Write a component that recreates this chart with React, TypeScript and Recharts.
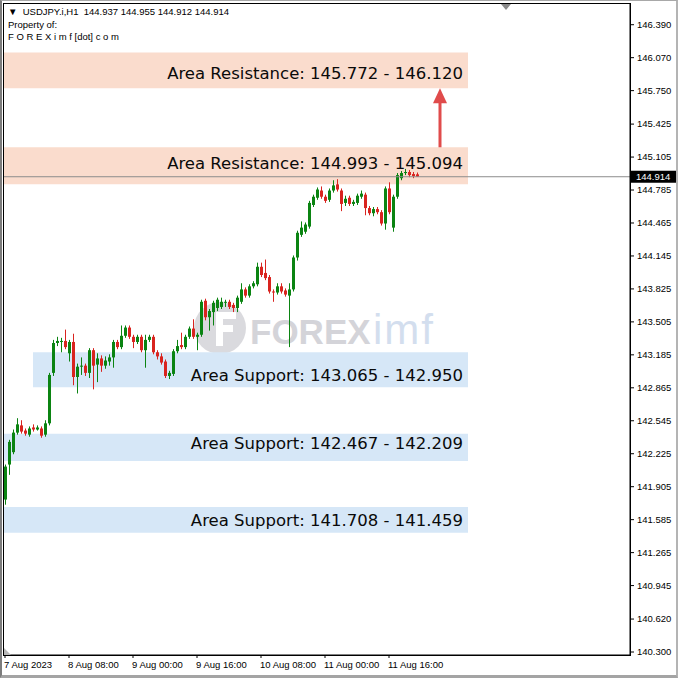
import React from 'react';
import {
  ComposedChart, Bar, XAxis, YAxis, ReferenceArea, ReferenceLine, ReferenceDot,
} from 'recharts';

// USDJPY H1, one entry per bar
const opens = [
  141.78, 142.12, 142.24, 142.43, 142.50, 142.45, 142.41, 142.48, 142.46, 142.47,
  142.41, 142.52, 143.01, 143.30, 143.31, 143.32, 143.20, 143.31, 142.97, 143.07,
  143.08, 143.01, 143.23, 143.09, 143.15, 143.08, 143.12, 143.16, 143.31, 143.26,
  143.37, 143.45, 143.36, 143.31, 143.36, 143.23, 143.33, 143.36, 143.21, 143.17,
  143.12, 142.98, 143.00, 143.22, 143.28, 143.26, 143.36, 143.44, 143.36, 143.38,
  143.71, 143.55, 143.60, 143.64, 143.65, 143.69, 143.70, 143.67, 143.64, 143.70,
  143.82, 143.76, 143.85, 143.87, 144.04, 143.98, 143.94, 143.80, 143.79, 143.85,
  143.81, 143.76, 143.82, 144.13, 144.35, 144.38, 144.43, 144.64, 144.71, 144.78,
  144.72, 144.69, 144.78, 144.84, 144.78, 144.66, 144.71, 144.65, 144.66, 144.72,
  144.74, 144.61, 144.56, 144.60, 144.57, 144.46, 144.80, 144.42, 144.72, 144.90,
  144.95, 144.96, 144.94, 144.937,
];
const highs = [
  142.12, 142.36, 142.46, 142.57, 142.55, 142.47, 142.49, 142.51, 142.50, 142.49,
  142.55, 143.01, 143.33, 143.36, 143.35, 143.43, 143.33, 143.39, 143.10, 143.16,
  143.10, 143.25, 143.25, 143.20, 143.18, 143.17, 143.19, 143.33, 143.33, 143.47,
  143.47, 143.47, 143.38, 143.38, 143.38, 143.38, 143.38, 143.38, 143.23, 143.20,
  143.14, 143.03, 143.24, 143.33, 143.40, 143.38, 143.46, 143.53, 143.40, 143.72,
  143.73, 143.63, 143.71, 143.74, 143.74, 143.72, 143.72, 143.69, 143.76, 143.88,
  143.84, 143.87, 143.90, 144.08, 144.08, 144.11, 143.96, 143.82, 143.88, 143.88,
  143.83, 143.88, 144.15, 144.39, 144.48, 144.47, 144.68, 144.74, 144.81, 144.82,
  144.74, 144.80, 144.88, 144.89, 144.80, 144.73, 144.73, 144.69, 144.75, 144.78,
  144.76, 144.63, 144.62, 144.62, 144.59, 144.82, 144.86, 144.74, 144.95, 144.97,
  144.99, 144.98, 144.96, 144.955,
];
const lows = [
  141.73, 142.02, 142.22, 142.41, 142.42, 142.40, 142.39, 142.44, 142.45, 142.38,
  142.39, 142.50, 142.98, 143.27, 143.21, 143.24, 143.12, 142.89, 142.81, 142.99,
  142.98, 142.96, 142.85, 142.92, 143.02, 143.05, 143.08, 143.06, 143.24, 143.24,
  143.35, 143.34, 143.25, 143.29, 143.21, 143.06, 143.31, 143.19, 143.14, 143.09,
  142.96, 142.95, 142.98, 143.20, 143.24, 143.24, 143.34, 143.34, 143.23, 143.36,
  143.52, 143.42, 143.47, 143.61, 143.63, 143.65, 143.63, 143.60, 143.60, 143.68,
  143.74, 143.74, 143.83, 143.85, 143.94, 143.91, 143.78, 143.70, 143.77, 143.78,
  143.75, 143.26, 143.80, 144.10, 144.33, 144.36, 144.41, 144.62, 144.69, 144.70,
  144.66, 144.67, 144.76, 144.77, 144.58, 144.63, 144.63, 144.63, 144.64, 144.70,
  144.54, 144.54, 144.53, 144.55, 144.44, 144.40, 144.55, 144.38, 144.70, 144.88,
  144.93, 144.91, 144.90, 144.912,
];
const closes = [
  142.10, 142.34, 142.43, 142.51, 142.44, 142.42, 142.47, 142.46, 142.48, 142.40,
  142.52, 142.99, 143.30, 143.32, 143.32, 143.26, 143.31, 142.97, 143.07, 143.08,
  143.01, 143.23, 143.08, 143.15, 143.08, 143.13, 143.16, 143.31, 143.26, 143.37,
  143.45, 143.36, 143.31, 143.36, 143.23, 143.33, 143.36, 143.21, 143.17, 143.11,
  142.98, 143.01, 143.22, 143.27, 143.26, 143.36, 143.44, 143.36, 143.38, 143.70,
  143.55, 143.61, 143.69, 143.72, 143.70, 143.70, 143.65, 143.64, 143.74, 143.82,
  143.76, 143.85, 143.88, 144.04, 143.96, 143.93, 143.80, 143.79, 143.85, 143.80,
  143.77, 143.82, 144.13, 144.37, 144.42, 144.45, 144.66, 144.72, 144.79, 144.72,
  144.68, 144.78, 144.83, 144.79, 144.65, 144.70, 144.65, 144.67, 144.73, 144.75,
  144.61, 144.56, 144.60, 144.57, 144.46, 144.80, 144.57, 144.72, 144.93, 144.95,
  144.96, 144.93, 144.92, 144.914,
];

const priceTicks = [
  146.39, 146.07, 145.75, 145.425, 145.105, 144.785, 144.465, 144.145, 143.825, 143.505,
  143.185, 142.865, 142.545, 142.225, 141.905, 141.585, 141.265, 140.945, 140.62, 140.3,
];
const timeTicks = [0, 16, 32, 48, 64, 80, 96];
const timeLabels = ['7 Aug 2023', '8 Aug 08:00', '9 Aug 00:00', '9 Aug 16:00', '10 Aug 08:00', '11 Aug 00:00', '11 Aug 16:00'];

// zones: text written on them, and the box edges as drawn
const zoneNames = [
  'Area Resistance: 145.772 - 146.120',
  'Area Resistance: 144.993 - 145.094',
  'Area Support: 143.065 - 142.950',
  'Area Support: 142.467 - 142.209',
  'Area Support: 141.708 - 141.459',
];
const zoneTop = [146.12, 145.2, 143.21, 142.42, 141.708];
const zoneBottom = [145.772, 144.84, 142.87, 142.155, 141.459];
const zoneIsResistance = [true, true, false, false, false];

const lastPrice = 144.914;

const GREEN = '#0b8412';
const RED = '#d9241f';
const SMALL = { fontFamily: '"Liberation Sans", Arial, sans-serif', fontSize: 9.5 };

const data = opens.map((o, i) => ({
  i, o, h: highs[i], l: lows[i], c: closes[i], range: [lows[i], highs[i]],
}));

function Candle(props: any) {
  const { x, y, width, height, payload } = props;
  if (!payload || x == null) return null;
  const { o, c, h, l } = payload;
  const top = Math.min(y, y + height);
  const span = Math.abs(height);
  const k = h > l ? span / (h - l) : 0;
  const cx = Math.round(x + width / 2) + 0.5;
  const bodyTop = top + (h - Math.max(o, c)) * k;
  const bodyH = Math.max(1, Math.abs(o - c) * k);
  const col = c >= o ? GREEN : RED;
  return (
    <g>
      <line x1={cx} x2={cx} y1={top} y2={top + span} stroke={col} strokeWidth={1} />
      <rect x={cx - 1.5} y={bodyTop} width={3} height={bodyH} fill={col} />
    </g>
  );
}

function XTick(props: any) {
  const { x, payload } = props;
  const idx = timeTicks.indexOf(payload.value);
  return (
    <text x={x - 1} y={664} dominantBaseline="central" fill="#000" style={SMALL}>
      {timeLabels[idx]}
    </text>
  );
}

function PriceTag(props: any) {
  const vb = props.viewBox;
  if (!vb) return null;
  const x = vb.x + vb.width + 1;
  return (
    <g>
      <rect x={x} y={vb.y - 6} width={45} height={12} fill="#000" />
      <text x={x + 5} y={vb.y} dominantBaseline="central" fill="#fff" style={SMALL}>
        {lastPrice.toFixed(3)}
      </text>
    </g>
  );
}

function ZoneLabel(props: any) {
  const vb = props.viewBox;
  if (!vb) return null;
  return (
    <text
      x={vb.x + vb.width - 5}
      y={vb.y + vb.height / 2 + (props.shift || 0)}
      textAnchor="end"
      dominantBaseline="central"
      fill="#0a0a0a"
      style={{ fontFamily: '"DejaVu Sans", Verdana, sans-serif', fontSize: 16.5 }}
    >
      {props.text}
    </text>
  );
}

function ArrowHead(props: any) {
  const { cx, cy } = props;
  return <polygon points={`${cx},${cy} ${cx - 7},${cy + 15} ${cx + 7},${cy + 15}`} fill="#e04b4b" />;
}

function ShiftMark(props: any) {
  const { cx, cy } = props;
  return <polygon points={`${cx - 5},${cy} ${cx + 5},${cy} ${cx},${cy + 6}`} fill="#8a8a8a" />;
}

function CornerMark(props: any) {
  const { cx, cy } = props;
  return <polygon points={`${cx},${cy} ${cx},${cy - 7} ${cx + 7},${cy}`} fill="#b8b8b8" />;
}

export default function App() {
  const zoneStart = [-0.25, -0.25, 7, -0.25, -0.25];
  const zoneEnd = 115.75;
  const labelShift = [3, -2, 6, -4, 1];

  return (
    <div style={{ position: 'absolute', left: 0, top: 0, width: 678, height: 678, background: '#fff', overflow: 'hidden' }}>
      {/* watermark */}
      <svg width={678} height={678} style={{ position: 'absolute', left: 0, top: 0 }}>
        <circle cx={220} cy={328} r={26} fill="#dadade" />
        <path d="M216 312 h20 v7 h-13 v6 h10 v7 h-10 v14 h-7 z" fill="#fff" />
        <text x={250} y={344} fill="#d4d4d9" style={{ fontFamily: '"Liberation Sans", Arial, sans-serif', fontSize: 35, fontWeight: 700 }}>FOREX</text>
        <text x={373} y={344} fill="#d3deee" style={{ fontFamily: '"Liberation Sans", Arial, sans-serif', fontSize: 42, letterSpacing: 2 }}>imf</text>
      </svg>

      <div style={{ position: 'absolute', left: 0, top: 0 }}>
        <ComposedChart width={678} height={678} data={data} margin={{ top: 4, right: 0, bottom: 0, left: 4 }}>
          <XAxis
            dataKey="i"
            type="number"
            domain={[-0.25, 156.25]}
            allowDataOverflow
            ticks={timeTicks}
            interval={0}
            tick={<XTick />}
            tickSize={3}
            tickLine={{ stroke: '#000' }}
            axisLine={{ stroke: '#000' }}
            height={23}
          />
          <YAxis
            orientation="right"
            type="number"
            domain={[140.271, 146.591]}
            allowDataOverflow
            ticks={priceTicks}
            interval={0}
            tickFormatter={(v: number) => v.toFixed(3)}
            width={48}
            tickSize={4}
            tickMargin={3}
            axisLine={{ stroke: '#000' }}
            tickLine={{ stroke: '#000' }}
            tick={{ fill: '#000', ...SMALL }}
          />
          {zoneNames.map((name, k) => (
            <ReferenceArea
              key={name}
              x1={zoneStart[k]}
              x2={zoneEnd}
              y1={zoneBottom[k]}
              y2={zoneTop[k]}
              fill={zoneIsResistance[k] ? '#fadccd' : '#d6e7f7'}
              fillOpacity={1}
              stroke="none"
              ifOverflow="visible"
              label={<ZoneLabel text={name} shift={labelShift[k]} />}
            />
          ))}
          <ReferenceLine y={lastPrice} stroke="#8c8c8c" strokeWidth={1} label={<PriceTag />} />
          <Bar dataKey="range" barSize={3} shape={<Candle />} isAnimationActive={false} />
          <ReferenceLine
            segment={[{ x: 108.75, y: 145.2 }, { x: 108.75, y: 145.64 }]}
            stroke="#e04b4b"
            strokeWidth={3}
          />
          <ReferenceDot x={108.75} y={145.772} ifOverflow="visible" shape={<ArrowHead />} />
          <ReferenceDot x={125.25} y={146.591} ifOverflow="visible" shape={<ShiftMark />} />
          <ReferenceDot x={-0.25} y={140.271} ifOverflow="visible" shape={<CornerMark />} />
        </ComposedChart>
      </div>

      {/* chart frame and window border */}
      <div style={{ position: 'absolute', left: 3, top: 3, width: 628, height: 653, border: '1px solid #000', boxSizing: 'border-box', pointerEvents: 'none' }} />
      <div style={{
        position: 'absolute', left: 0, top: 0, width: 678, height: 678, boxSizing: 'border-box', pointerEvents: 'none',
        borderTop: '1px solid #a8a8a8', borderLeft: '2px solid #7c7c7c', borderRight: '2px solid #b4b4b4', borderBottom: '3px solid #a4a4a4',
      }} />

      {/* header */}
      <div style={{ position: 'absolute', left: 8, top: 6, color: '#000', lineHeight: '12.5px', whiteSpace: 'pre', ...SMALL }}>
        <div>{'\u25BC  USDJPY.i,H1  144.937 144.955 144.912 144.914'}</div>
        <div>Property of:</div>
        <div>F O R E X i m f [dot] c o m</div>
      </div>
    </div>
  );
}
